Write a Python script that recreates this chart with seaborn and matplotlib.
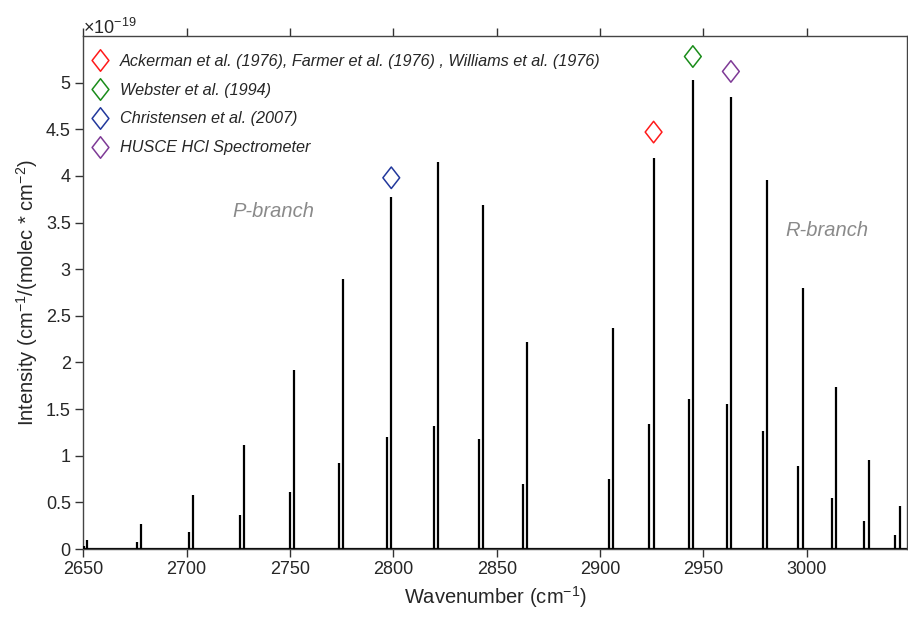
import matplotlib
matplotlib.use("Agg")
import matplotlib.pyplot as plt
from matplotlib.path import Path
from matplotlib.ticker import FuncFormatter, FixedLocator, MultipleLocator
import pandas as pd
import seaborn as sns

# HCl fundamental band: H35Cl lines (cm^-1) and line intensities (units of 1e-19)
h35_wavenumber = [2651.9, 2677.7, 2703.0, 2727.8, 2752.0, 2775.8, 2799.0, 2821.6, 2843.6, 2864.8,
                  2906.2, 2925.9, 2944.9, 2963.3, 2981.0, 2998.0, 3014.3, 3030.0, 3045.0]
h35_intensity = [0.10, 0.27, 0.58, 1.12, 1.92, 2.89, 3.77, 4.15, 3.69, 2.22,
                 2.37, 4.19, 5.03, 4.85, 3.96, 2.80, 1.74, 0.95, 0.46]

# H37Cl isotopologue lines
h37_wavenumber = [2650.1, 2675.8, 2701.1, 2725.9, 2750.1, 2773.9, 2797.0, 2819.6, 2841.6, 2862.9,
                  2904.1, 2923.9, 2942.8, 2961.2, 2978.9, 2995.8, 3012.1, 3027.8, 3042.8]
h37_intensity = [0.03, 0.08, 0.18, 0.36, 0.61, 0.92, 1.20, 1.32, 1.18, 0.70,
                 0.75, 1.34, 1.61, 1.55, 1.26, 0.89, 0.55, 0.30, 0.15]

# Lines targeted by each measurement
source_labels = ["Ackerman et al. (1976), Farmer et al. (1976) , Williams et al. (1976)",
                 "Webster et al. (1994)",
                 "Christensen et al. (2007)",
                 "HUSCE HCl Spectrometer"]
source_wavenumber = [2925.9, 2944.9, 2799.0, 2963.3]
source_intensity = [4.47, 5.28, 3.98, 5.12]
source_colors = ["#ff1a1a", "#1a8c1a", "#22389c", "#7e3a96"]

branch_labels = ["P-branch", "R-branch"]
branch_x = [2742.0, 3010.0]
branch_y = [3.62, 3.42]

y_ticks = [0, 0.5, 1, 1.5, 2, 2.5, 3, 3.5, 4, 4.5, 5]

sns.set_theme(style="white")
plt.rcParams["font.family"] = ["Liberation Sans", "DejaVu Sans"]
plt.rcParams["mathtext.fontset"] = "custom"
plt.rcParams["mathtext.rm"] = "Liberation Sans"
plt.rcParams["mathtext.it"] = "Liberation Sans:italic"

lines = pd.DataFrame({
    "wavenumber": h35_wavenumber + h37_wavenumber,
    "intensity": h35_intensity + h37_intensity,
})
sources = pd.DataFrame({
    "wavenumber": source_wavenumber,
    "intensity": source_intensity,
    "source": source_labels,
})

fig = plt.figure(figsize=(9.08, 6.17), dpi=100)
ax = fig.add_axes([83.3 / 908, 1 - 549 / 617, (907 - 83.3) / 908, (549 - 36) / 617])

xmin, xmax = 2650, 3048.5
ax.axhline(0, color="black", lw=1.6, zorder=2)
ax.vlines(lines["wavenumber"], 0, lines["intensity"], color="black", lw=1.6, zorder=3)

diamond = Path([(0, 1), (0.78, 0), (0, -1), (-0.78, 0), (0, 1)],
               [Path.MOVETO, Path.LINETO, Path.LINETO, Path.LINETO, Path.CLOSEPOLY])
sns.scatterplot(data=sources, x="wavenumber", y="intensity", hue="source",
                hue_order=source_labels, palette=source_colors, marker=diamond,
                s=15.5 ** 2, facecolor="none", linewidth=1.1, ax=ax, zorder=4, legend=False)
# seaborn fills markers; restyle as open diamonds
coll = ax.collections[-1]
coll.set_edgecolors([source_colors[source_labels.index(s)] for s in sources["source"]])
coll.set_facecolors("none")

for lbl, bx, by in zip(branch_labels, branch_x, branch_y):
    ax.text(bx, by, lbl, color="#8a8a8a", fontsize=14.5, style="italic", ha="center", va="center")

handles = [plt.Line2D([], [], ls="none", marker=diamond, markersize=15.5, markerfacecolor="none",
                      markeredgecolor=c, markeredgewidth=1.1) for c in source_colors]
leg = ax.legend(handles, source_labels, loc="upper left", bbox_to_anchor=(-0.003, 0.988),
                frameon=False, prop={"style": "italic", "size": 11.7},
                handlelength=1.0, handletextpad=0.72, labelspacing=0.86, borderaxespad=0.3)

ax.set_xlim(xmin, xmax)
ax.set_ylim(0, 5.5)
ax.xaxis.set_major_locator(MultipleLocator(50))
ax.yaxis.set_major_locator(FixedLocator(y_ticks))
ax.yaxis.set_major_formatter(FuncFormatter(lambda v, p: f"{v:g}"))
ax.tick_params(axis="both", direction="out", length=6, width=1, color="#333333",
               labelsize=13, labelcolor="#262626", bottom=True, left=True, top=True, right=False,
               pad=3)
for sp in ax.spines.values():
    sp.set_color("#444444")
    sp.set_linewidth(1.0)

ax.set_xlabel("Wavenumber (cm$^{-1}$)", fontsize=14.5, color="#262626", labelpad=4)
ax.set_ylabel("Intensity (cm$^{-1}$/(molec * cm$^{-2}$)", fontsize=14.5, color="#262626", labelpad=4)
fig.text(83 / 908, 1 - 34 / 617, r"$\times$10$^{-19}$", fontsize=13, color="#262626",
         ha="left", va="baseline")

fig.savefig("out.png", dpi=100)
